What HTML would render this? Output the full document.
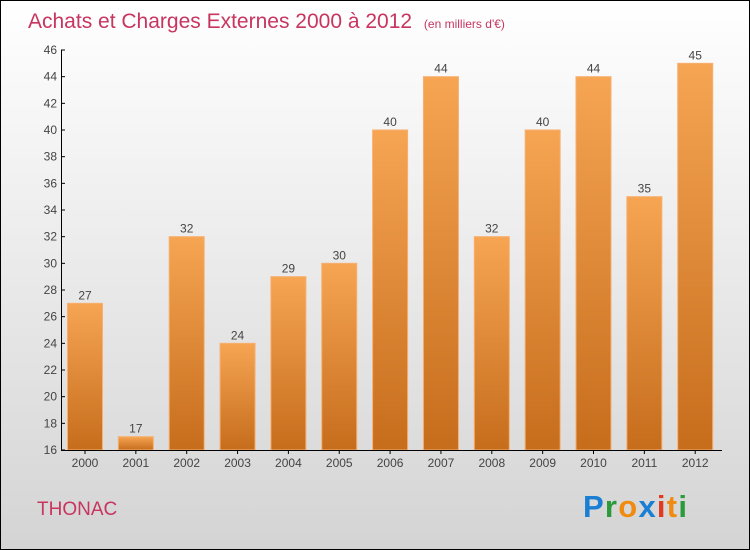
<!DOCTYPE html>
<html><head><meta charset="utf-8"><style>
body{margin:0}
#c{width:748px;height:548px;border:1px solid #000;background:linear-gradient(#ffffff,#d4d4d4);position:relative;font-family:"Liberation Sans",sans-serif}
</style></head><body>
<div id="c">
<svg width="748" height="548" style="position:absolute;left:0;top:0" id="s">
<defs><linearGradient id="g" x1="0" y1="0" x2="0" y2="1"><stop offset="0" stop-color="#f6a553"/><stop offset="1" stop-color="#c66d1c"/></linearGradient></defs>
<text x="27" y="27" font-size="21" fill="#c8355f">Achats et Charges Externes 2000 à 2012 <tspan font-size="12" dx="6">(en milliers d'€)</tspan></text>
<text x="36" y="514" font-size="19" fill="#c8355f">THONAC</text>
<text x="582" y="516" font-size="31" font-weight="bold" textLength="104"><tspan fill="#1a7fd4">P</tspan><tspan fill="#2a9a3a">r</tspan><tspan fill="#f08a10">o</tspan><tspan fill="#1a7fd4">x</tspan><tspan fill="#e03a20">i</tspan><tspan fill="#f08a10">t</tspan><tspan fill="#2a9a3a">i</tspan></text>
</svg></div>
<script>
const categories=["2000","2001","2002","2003","2004","2005","2006","2007","2008","2009","2010","2011","2012"];
const values=[27,17,32,24,29,30,40,44,32,40,44,35,45];
const yTicks=[16,18,20,22,24,26,28,30,32,34,36,38,40,42,44,46];
const s=document.getElementById('s');const NS='http://www.w3.org/2000/svg';
const y=v=>449-(v-16)*400/30;
const x=i=>84+i*50.85;
function mk(t,a,txt){const e=document.createElementNS(NS,t);for(const k in a)e.setAttribute(k,a[k]);if(txt!=null)e.textContent=txt;s.appendChild(e);return e;}
categories.forEach((c,i)=>{
 const b=mk('rect',{x:x(i)-17.5,y:y(values[i]),width:35,height:449-y(values[i]),fill:'url(#g)',stroke:'#f7b070','stroke-width':1});
 
 
 const l=mk('text',{x:x(i),y:y(values[i])-4,'font-size':12,fill:'#444','text-anchor':'middle'},values[i]);
 
 
 const t=mk('text',{x:x(i),y:466,'font-size':12,fill:'#444','text-anchor':'middle'},c);
 
 
 mk('line',{x1:x(i),x2:x(i),y1:449,y2:453,stroke:'#000'});
});
yTicks.forEach(v=>{
 const t=mk('text',{x:56,y:y(v)+4,'font-size':12,fill:'#444','text-anchor':'end'},v);
 
 
 mk('line',{x1:60,x2:64,y1:y(v),y2:y(v),stroke:'#000'});
});
const ya=mk('line',{x1:60.5,x2:60.5,y1:49,y2:450,stroke:'#000'});


const xa=mk('line',{x1:60,x2:721,y1:449.5,y2:449.5,stroke:'#000'});


</script>
</body></html>
